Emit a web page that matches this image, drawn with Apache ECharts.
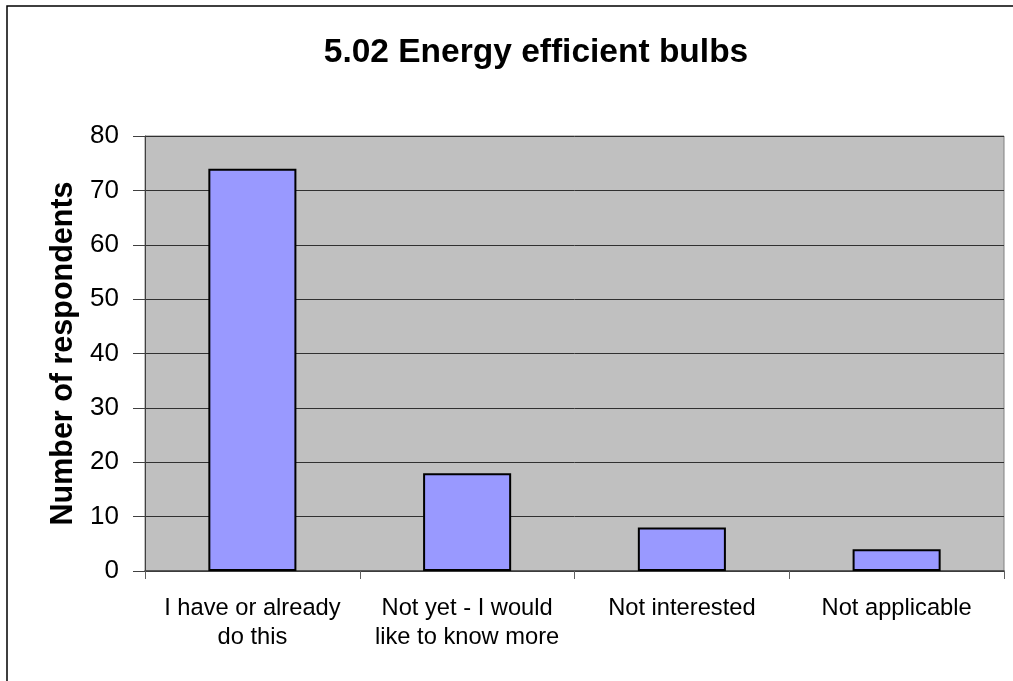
<!DOCTYPE html>
<html><head><meta charset="utf-8">
<script src="https://cdn.jsdelivr.net/npm/echarts@6/dist/echarts.min.js"></script>
<style>html,body{margin:0;padding:0;background:#fff}#c{width:1013px;height:681px}</style>
</head><body><div id="c"></div>
<script>
const titleText = "5.02 Energy efficient bulbs";
const yAxisName = "Number of respondents";
const categories = ["I have or already\ndo this", "Not yet - I would\nlike to know more", "Not interested", "Not applicable"];
const values = [74, 18, 8, 4];
const yMin = 0, yMax = 80, yInterval = 10;

const chart = echarts.init(document.getElementById('c'));
const font = "'Liberation Sans', Arial, sans-serif";
chart.setOption({
  animation: false,
  backgroundColor: '#fff',
  title: {
    text: titleText, left: 531, top: 31, textAlign: 'center',
    textStyle: { fontFamily: font, fontSize: 33.5, fontWeight: 'bold', color: '#000' }
  },
  graphic: [{
    type: 'rect', shape: { x: 7, y: 6, width: 1100, height: 800 },
    style: { fill: 'none', stroke: '#000', lineWidth: 1.5 }, z: 100
  }],
  grid: { left: 145, right: 9, top: 136, bottom: 110, show: true, backgroundColor: '#c0c0c0', borderColor: '#808080', borderWidth: 1 },
  xAxis: {
    type: 'category', data: categories,
    axisLine: { lineStyle: { color: '#404040', width: 1.5 } },
    axisTick: { show: true, length: 8, lineStyle: { color: '#606060' } },
    axisLabel: { fontFamily: font, fontSize: 23.7, color: '#000', margin: 23, lineHeight: 29, interval: 0 }
  },
  yAxis: {
    type: 'value', min: yMin, max: yMax, interval: yInterval,
    name: yAxisName, nameLocation: 'middle', nameGap: 62,
    nameTextStyle: { fontFamily: font, fontSize: 30.5, fontWeight: 'bold', color: '#000' },
    axisLine: { show: true, lineStyle: { color: '#404040' } },
    axisTick: { show: true, inside: false, length: 12, lineStyle: { color: '#404040' } },
    axisLabel: { fontFamily: font, fontSize: 26, color: '#000', margin: 26 },
    splitLine: { show: true, lineStyle: { color: '#303030', width: 1 } }
  },
  series: [{
    type: 'bar', data: values, barWidth: '41%',
    itemStyle: { color: '#9999ff', borderColor: '#000', borderWidth: 2 }
  }]
});
</script></body></html>
